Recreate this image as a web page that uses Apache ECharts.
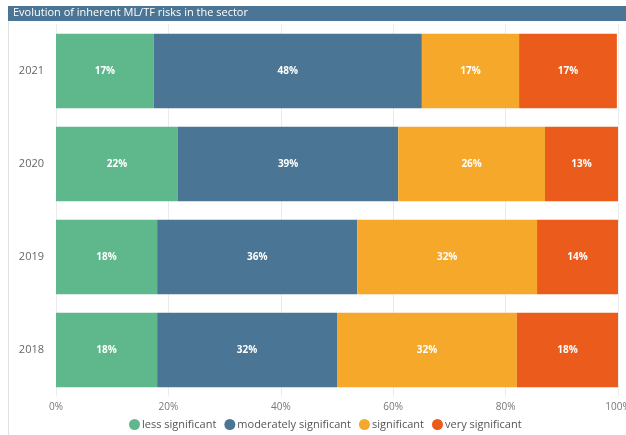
<!DOCTYPE html>
<html><head><meta charset="utf-8">
<script src="https://cdn.jsdelivr.net/npm/echarts@6/dist/echarts.min.js"></script>
<style>html,body{margin:0;padding:0;background:#fff}#c{width:626px;height:435px}</style>
</head><body><div id="c"></div>
<script>
const years = ['2018', '2019', '2020', '2021'];
const seriesNames = ['less significant', 'moderately significant', 'significant', 'very significant'];
const lessSignificant = [18.0, 18.0, 21.7, 17.4];
const moderatelySignificant = [32.0, 35.6, 39.2, 47.7];
const significant = [32.0, 32.0, 26.1, 17.3];
const verySignificant = [18.0, 14.4, 13.0, 17.4];
const xTicks = ['0%', '20%', '40%', '60%', '80%', '100%'];
const colors = ['#5fb88c', '#4a7594', '#f5a82a', '#eb5c1c'];

const values = [lessSignificant, moderatelySignificant, significant, verySignificant];
const font = 'Open Sans, DejaVu Sans, sans-serif';
const chart = echarts.init(document.getElementById('c'));
chart.setOption({
  animation: false,
  grid: {left: 56, right: 8, top: 24.5, bottom: 38.5, containLabel: false, outerBoundsMode: 'none'},
  graphic: [
    {type: 'rect', shape: {x: 8, y: 6, width: 618, height: 15}, style: {fill: '#4a7594'}},
    {type: 'text', left: 13, top: 7, style: {text: 'Evolution of inherent ML/TF risks in the sector', fill: '#fff', font: '11px ' + font}},
    {type: 'rect', shape: {x: 8, y: 21, width: 1, height: 414}, style: {fill: '#e2e2e2'}}
  ],
  xAxis: {
    type: 'value', min: 0, max: 100, interval: 20,
    axisLabel: {formatter: v => xTicks[v / 20], color: '#777', fontSize: 10, fontFamily: font, margin: 6},
    splitLine: {lineStyle: {color: '#ebebeb'}},
    axisLine: {show: false}, axisTick: {show: false}
  },
  yAxis: {
    type: 'category', data: years,
    axisLabel: {color: '#666', fontSize: 11, fontFamily: font, margin: 12},
    axisLine: {show: false}, axisTick: {show: false}, splitLine: {show: false}
  },
  legend: {
    top: 414, left: 124, icon: 'circle', itemWidth: 11, itemHeight: 11, itemGap: 8,
    textStyle: {color: '#555', fontSize: 11, fontFamily: font, padding: [0, 0, 0, -3]},
    data: seriesNames
  },
  series: seriesNames.map((n, i) => ({
    name: n, type: 'bar', stack: 'a', barCategoryGap: '20%',
    itemStyle: {color: colors[i]},
    label: {show: true, color: '#fff', fontSize: 10, fontWeight: 'bold', fontFamily: font,
      formatter: p => Math.round(p.value) + '%'},
    data: values[i]
  }))
});
</script></body></html>
